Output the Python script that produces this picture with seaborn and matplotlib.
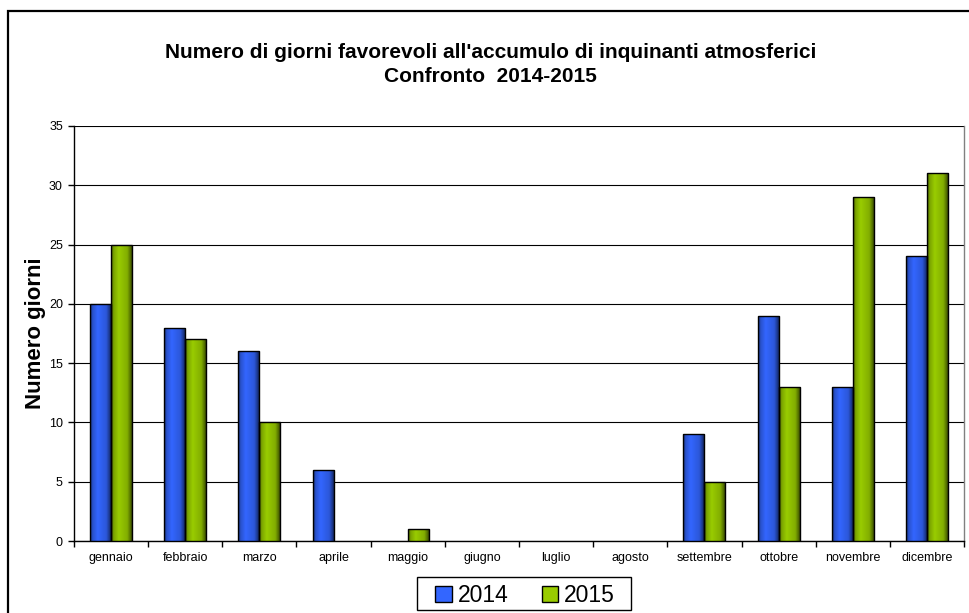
import numpy as np
import pandas as pd
import matplotlib
matplotlib.use("Agg")
import matplotlib.pyplot as plt
import matplotlib.colors as mcolors
from matplotlib.patches import Rectangle, Patch
import seaborn as sns

months = ["gennaio", "febbraio", "marzo", "aprile", "maggio", "giugno",
          "luglio", "agosto", "settembre", "ottobre", "novembre", "dicembre"]
v2014 = [20, 18, 16, 6, 0, 0, 0, 0, 9, 19, 13, 24]
v2015 = [25, 17, 10, 0, 1, 0, 0, 0, 5, 13, 29, 31]
series = ["2014", "2015"]
colors = {"2014": "#3366FF", "2015": "#99CC00"}

df = pd.DataFrame({
    "mese": months * 2,
    "anno": ["2014"] * 12 + ["2015"] * 12,
    "giorni": v2014 + v2015,
})

sns.set_theme(style="white")
plt.rcParams["font.family"] = ["Liberation Sans", "DejaVu Sans"]
plt.rcParams["text.color"] = "black"

fig = plt.figure(figsize=(9.7, 6.13), dpi=100)
ax = fig.add_axes([74 / 970, 1 - 541 / 613, (964 - 74) / 970, (541 - 126) / 613])

sns.barplot(data=df, x="mese", y="giorni", hue="anno", order=months,
            hue_order=series, palette=colors, width=0.567, gap=0,
            edgecolor="black", linewidth=1.0, ax=ax, legend=True, zorder=3)

ax.set_ylim(0, 35)
ax.set_xlim(-0.5, 11.5)

# gradient fill for each bar (Excel-like)
def shade(c, f):
    r, g, b = mcolors.to_rgb(c)
    return (r * f, g * f, b * f)

stops = [0.0, 0.12, 0.35, 0.75, 1.0]
facts = [0.45, 0.8, 1.0, 0.85, 0.3]
nx = 64
xs = np.linspace(0, 1, nx)
for cont, name in zip(ax.containers, series):
    base = colors[name]
    cols = np.array([shade(base, f) for f in facts])
    grad = np.stack([np.interp(xs, stops, cols[:, k]) for k in range(3)], axis=-1)
    img = grad[np.newaxis, :, :]
    for p in cont.patches:
        h = p.get_height()
        if h <= 0:
            p.set_visible(False)
            continue
        x0 = p.get_x()
        w = p.get_width()
        im = ax.imshow(img, extent=[x0, x0 + w, 0, h], aspect="auto",
                       zorder=3.5, interpolation="bilinear")
        im.set_clip_path(p)
        p.set_facecolor("none")
        p.set_zorder(4)

ax.set_ylim(0, 35)
ax.set_xlim(-0.5, 11.5)

# grid & spines
ax.set_yticks(np.arange(0, 36, 5))
ax.yaxis.grid(True, color="black", linewidth=0.8, zorder=0)
ax.set_axisbelow(True)
ax.spines["top"].set_visible(False)
ax.spines["right"].set_color("#808080")
ax.spines["right"].set_linewidth(1.0)
for s in ["left", "bottom"]:
    ax.spines[s].set_color("black")
    ax.spines[s].set_linewidth(1.0)

ax.set_xticks(np.arange(12))
ax.set_xticklabels(months, fontsize=9, color="black")
ax.set_xticks(np.arange(-0.5, 12, 1), minor=True)
ax.tick_params(axis="x", which="major", length=0, pad=8)
ax.tick_params(axis="x", which="minor", length=4, width=1, color="black",
               direction="out", bottom=True)
ax.tick_params(axis="y", which="major", length=4, width=1, color="black",
               direction="out", left=True, labelsize=9, labelcolor="black", pad=4)

ax.set_xlabel("")
ax.set_ylabel("Numero giorni", fontsize=16, fontweight="bold", color="black",
              labelpad=2)

fig.text(0.506, 1 - 53 / 613, "Numero di giorni favorevoli all'accumulo di inquinanti atmosferici",
         ha="center", va="center", fontsize=15, fontweight="bold", color="black")
fig.text(0.506, 1 - 76 / 613, "Confronto  2014-2015",
         ha="center", va="center", fontsize=15, fontweight="bold", color="black")

# legend
ax.get_legend().remove()
handles = [Patch(facecolor=colors[s], edgecolor="black", linewidth=1.0) for s in series]
leg = fig.legend(handles, series, loc="center", bbox_to_anchor=(525 / 970, 1 - 595.5 / 613),
                 ncol=2, frameon=False, fontsize=16.5, handlelength=0.72, handleheight=0.72,
                 handletextpad=0.26, columnspacing=1.45, borderpad=0.0)
for t in leg.get_texts():
    t.set_color("black")
fig.patches.append(Rectangle((417 / 970, 1 - 610 / 613), (631 - 417) / 970, 33 / 613,
                             transform=fig.transFigure, fill=False, edgecolor="black",
                             linewidth=1.0))

# outer border
fig.patches.append(Rectangle((8.5 / 970, -0.5), 2, 0.5 + (1 - 11 / 613), transform=fig.transFigure,
                             fill=False, edgecolor="black", linewidth=1.6, clip_on=False))

fig.savefig("out.png", dpi=100, facecolor="white")
